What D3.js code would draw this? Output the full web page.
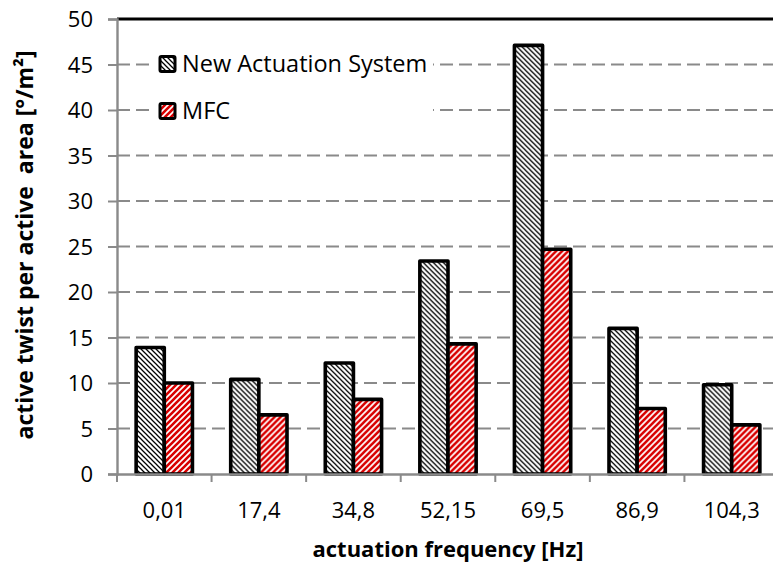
<!DOCTYPE html>
<html><head><meta charset="utf-8">
<script src="https://cdn.jsdelivr.net/npm/d3@7"></script>
<style>body{margin:0;background:#fff}svg{display:block}text{font-family:"Open Sans",sans-serif;white-space:pre}</style>
</head><body>
<script>
const categories = ["0,01","17,4","34,8","52,15","69,5","86,9","104,3"];
const newSystem = [13.9, 10.4, 12.2, 23.4, 47.1, 16.0, 9.8];
const mfc = [10.0, 6.5, 8.2, 14.3, 24.7, 7.2, 5.4];
const seriesNames = ["New Actuation System","MFC"];
const yTicks = [0,5,10,15,20,25,30,35,40,45,50];

const W=773,H=565;
const m={left:117,top:19,right:-6,bottom:91};
const svg=d3.select("body").append("svg").attr("width",W).attr("height",H);
const defs=svg.append("defs");
const p1=defs.append("pattern").attr("id","pBlack").attr("patternUnits","userSpaceOnUse").attr("width",5).attr("height",5);
p1.append("rect").attr("width",5).attr("height",5).attr("fill","#fff");
p1.append("path").attr("d","M-1,-1 L6,6 M-1,4 L1,6 M4,-1 L6,1").attr("stroke","#000").attr("stroke-width",1.25);
const p2=defs.append("pattern").attr("id","pRed").attr("patternUnits","userSpaceOnUse").attr("width",6).attr("height",6);
p2.append("rect").attr("width",6).attr("height",6).attr("fill","#fff");
p2.append("path").attr("d","M-1,7 L7,-1 M-1,1 L1,-1 M5,7 L7,5").attr("stroke","#d80000").attr("stroke-width",2.6);

const x0=d3.scaleBand().domain(categories).range([m.left,W-m.right]).paddingInner(0).paddingOuter(0);
const x1=d3.scaleBand().domain(seriesNames).range([0,x0.bandwidth()]).paddingInner(0).paddingOuter(0.68);
const y=d3.scaleLinear().domain([0,50]).range([H-m.bottom,m.top]);

// gridlines
svg.append("g").selectAll("line").data(yTicks.filter(d=>d>0&&d<50)).join("line")
 .attr("x1",m.left).attr("x2",W+10).attr("y1",d=>y(d)).attr("y2",d=>y(d))
 .attr("stroke","#8a8a8a").attr("stroke-width",2).attr("stroke-dasharray","13,6");

// legend background
const lg=svg.append("g");
lg.append("rect").attr("x",149).attr("y",42).attr("width",284).attr("height",92).attr("fill","#fff");

// bars
const data=categories.map((c,i)=>({c,vals:[{s:seriesNames[0],v:newSystem[i],f:"url(#pBlack)"},{s:seriesNames[1],v:mfc[i],f:"url(#pRed)"}]}));
svg.append("g").selectAll("g").data(data).join("g").attr("transform",d=>`translate(${x0(d.c)},0)`)
 .selectAll("rect").data(d=>d.vals).join("rect")
 .attr("x",d=>x1(d.s)).attr("width",x1.bandwidth()).attr("y",d=>y(d.v)).attr("height",d=>y(0)-y(d.v))
 .attr("fill",d=>d.f).attr("stroke","#000").attr("stroke-width",3.6).attr("stroke-linejoin","round");

// top border
svg.append("line").attr("x1",m.left).attr("x2",W+10).attr("y1",y(50)).attr("y2",y(50)).attr("stroke","#000").attr("stroke-width",3);

// axes
const ya=svg.append("g").attr("transform",`translate(${m.left},0)`)
 .call(d3.axisLeft(y).tickValues(yTicks).tickSize(9).tickPadding(15));
ya.select(".domain").attr("stroke","#8a8a8a").attr("stroke-width",2.4);
ya.selectAll(".tick line").attr("stroke","#8a8a8a").attr("stroke-width",2);
ya.selectAll("text").attr("font-size",22).attr("fill","#000").attr("dy","0.36em");

const xa=svg.append("g").attr("transform",`translate(0,${y(0)})`)
 .call(d3.axisBottom(x0).tickSize(0).tickPadding(28));
xa.select(".domain").attr("stroke","#8a8a8a").attr("stroke-width",2.4);
xa.selectAll("text").attr("font-size",22).attr("fill","#000");
const tickXs=categories.map(c=>x0(c)).concat([x0(categories[categories.length-1])+x0.bandwidth()]);
svg.append("g").selectAll("line").data(tickXs).join("line")
 .attr("x1",d=>d).attr("x2",d=>d).attr("y1",y(0)).attr("y2",y(0)+8).attr("stroke","#8a8a8a").attr("stroke-width",2);

// legend
const items=[{n:seriesNames[0],f:"url(#pBlack)",y:64},{n:seriesNames[1],f:"url(#pRed)",y:111}];
items.forEach(it=>{
 lg.append("rect").attr("x",160).attr("y",it.y-7.5).attr("width",15).attr("height",15).attr("fill",it.f).attr("stroke","#000").attr("stroke-width",3).attr("rx",1.5);
 lg.append("text").attr("x",182).attr("y",it.y+8).attr("font-size",23.5).text(it.n);
});

// titles
svg.append("text").attr("x",448).attr("y",557).attr("text-anchor","middle").attr("font-size",22).attr("font-weight","bold").text("actuation frequency [Hz]");
svg.append("text").attr("transform","translate(33,245) rotate(-90)").attr("text-anchor","middle").attr("font-size",23).attr("font-weight","bold").text("active twist per active  area [°/m²]");
</script>
</body></html>
